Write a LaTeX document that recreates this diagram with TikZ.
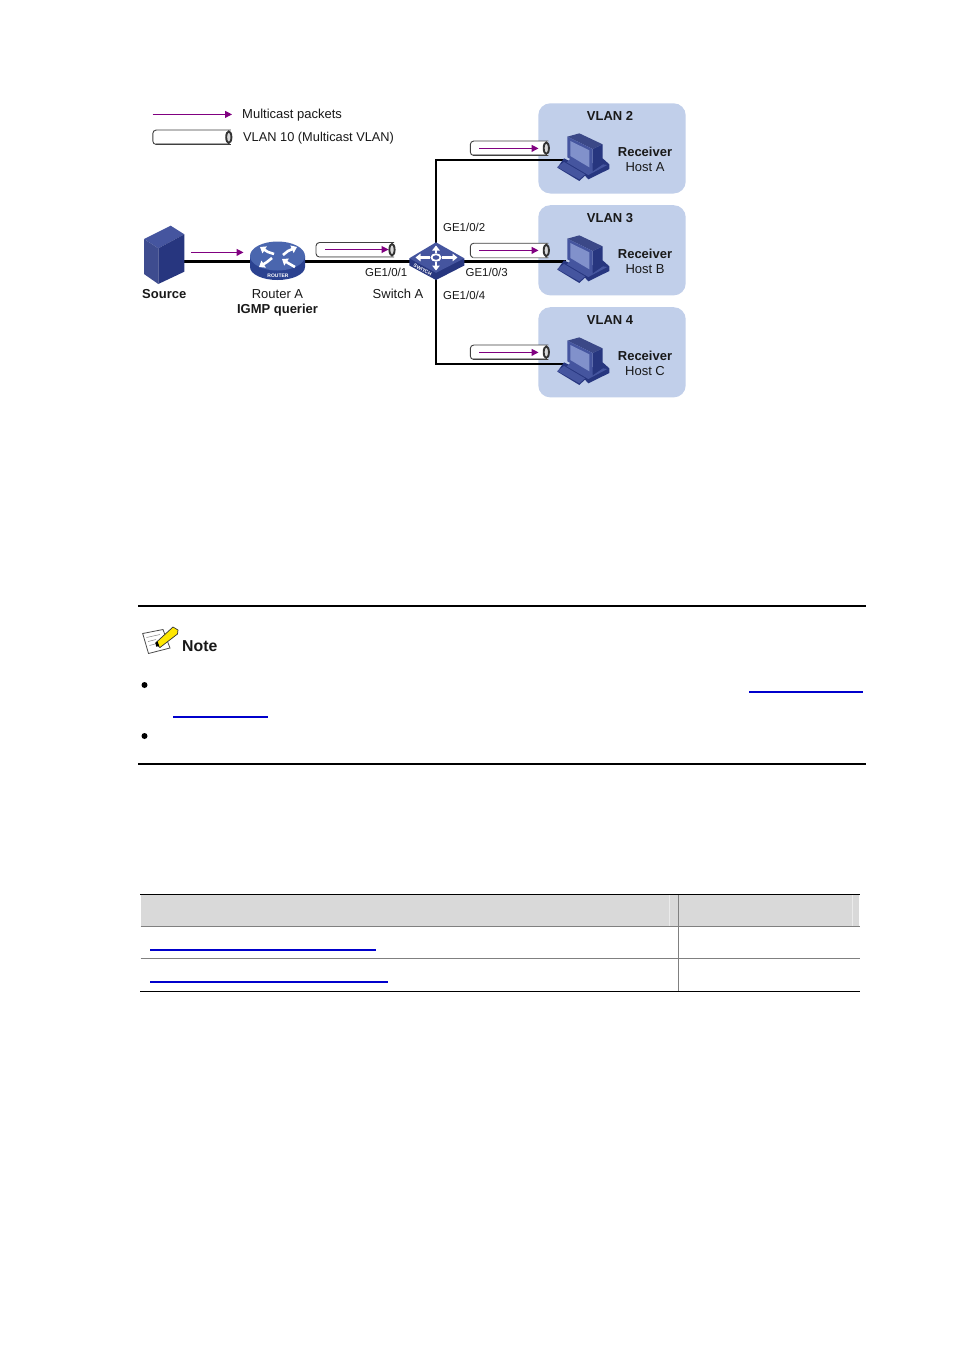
\documentclass[tikz,border=0pt]{standalone}
\usepackage{fontspec}
\setmainfont{Liberation Sans}
\usetikzlibrary{arrows.meta}
\definecolor{flowc}{HTML}{800080}
\definecolor{vlanc}{HTML}{C1CFEA}
\definecolor{dk}{HTML}{27367F}
\definecolor{md}{HTML}{45559F}
\definecolor{lt}{HTML}{8191CB}
\definecolor{rtop}{HTML}{4A66AE}
\definecolor{rside}{HTML}{2B4290}
\definecolor{headc}{HTML}{D9D9D9}
\definecolor{rulec}{HTML}{808080}
\definecolor{linkc}{HTML}{0000CC}
\tikzset{
  lab/.style={inner sep=0pt,anchor=base,font=\fontsize{13}{13}\selectfont,text=black!90},
  labl/.style={lab,anchor=base west},
  blab/.style={lab,font=\fontsize{13}{13}\selectfont\bfseries},
  blabl/.style={blab,anchor=base west},
  port/.style={lab,anchor=base west,font=\fontsize{11.45}{12}\selectfont},
  link/.style={line width=2pt,black},
  trunk/.style={line width=3pt,black},
  flow/.style={draw=flowc,line width=1pt,-{Triangle[length=7pt,width=7pt]}},
  notebar/.style={line width=2pt,black},
  hyper/.style={line width=1.3pt,linkc},
  tablegrey/.style={line width=1.2pt,rulec},
  tableblack/.style={line width=1.2pt,black},
  host/.pic={
    \begin{scope}[x=.3333pt,y=-.3333pt]
      \fill[dk] (22,128)--(42,100)--(100,128)--(158,100)--(178,118)--(178,132)--(115,163)--(105,152)--(88,168)--cycle;
      \fill[md] (22,126)--(42,111)--(105,148)--(88,163)--cycle;
      \fill[md] (62,100)--(128,137)--(158,118)--(172,120)--(115,150)--(50,112)--cycle;
      \fill[md!85!black] (52,35)--(88,25)--(158,58)--(128,72)--cycle;
      \fill[dk] (128,72)--(158,58)--(158,118)--(128,139)--cycle;
      \fill[md] (52,35)--(128,72)--(128,139)--(52,97)--cycle;
      \fill[lt] (61,48)--(118,76)--(118,127)--(61,93)--cycle;
    \end{scope}
  },
  tube/.pic={
    \fill[white] (0,0) rectangle (78,14.5);
    \draw[line width=.9pt,black!75,rounded corners=3.5pt] (78,0)--(0,0)--(0,14.5)--(78,14.5);
    \draw[line width=1pt,black!35] (3,13.8)--(75,13.8);
    \draw[line width=1.9pt,black!80,fill=black!15] (76,7.2) ellipse [x radius=2.6,y radius=5.8];
  }
}
\begin{document}
\begin{tikzpicture}[x=1pt,y=-1pt]
\useasboundingbox (0,0) rectangle (954,1350);
\fill[white] (0,0) rectangle (954,1350);

% VLAN regions
\fill[vlanc,rounded corners=12pt] (538.3,103.3) rectangle (685.7,193.5);
\fill[vlanc,rounded corners=12pt] (538.3,205.2) rectangle (685.7,295.4);
\fill[vlanc,rounded corners=12pt] (538.3,307.2) rectangle (685.7,397.4);

% anchor coordinates
\coordinate (source) at (165,261);
\coordinate (router) at (278,261);
\coordinate (switch) at (436,261);
\coordinate (hostA) at (566,160);
\coordinate (hostB) at (566,261);
\coordinate (hostC) at (566,363.5);

% connectors
\draw[trunk] (source) -- (router);
\draw[trunk] (router) -- (switch);
\draw[link] (switch) |- (hostA);
\draw[trunk] (switch) -- (hostB);
\draw[link] (switch) |- (hostC);

% tubes
\pic at (152.8,130) {tube};
\pic at (316,242.5) {tube};
\pic at (470.3,141) {tube};
\pic at (470.3,243.2) {tube};
\pic at (470.3,345) {tube};

% flow arrows
\coordinate (legS) at (152.7,114.4); \coordinate (legE) at (232,114.4);
\coordinate (srcS) at (191,252.4);   \coordinate (srcE) at (243.5,252.4);
\coordinate (trS) at (325,249.5);    \coordinate (trE) at (388.5,249.5);
\coordinate (aS) at (479,148.4);     \coordinate (aE) at (538.5,148.4);
\coordinate (bS) at (479,250.4);     \coordinate (bE) at (538.5,250.4);
\coordinate (cS) at (479,352.4);     \coordinate (cE) at (538.5,352.4);
\draw[flow] (legS) -- (legE);
\draw[flow] (srcS) -- (srcE);
\draw[flow] (trS) -- (trE);
\draw[flow] (aS) -- (aE);
\draw[flow] (bS) -- (bE);
\draw[flow] (cS) -- (cE);

% server
\fill[md] (170.7,225.7)--(184.3,234.3)--(158.3,248.3)--(144,239)--cycle;
\fill[md!90!black] (144,239)--(158.3,248.3)--(158.3,284)--(144,274)--cycle;
\fill[dk] (158.3,248.3)--(184.3,234.3)--(184.3,271.7)--(158.3,284)--cycle;

% router
\fill[rside] (250,256)--(250,267) arc[start angle=180,end angle=0,x radius=27.5,y radius=13] --(305,256)--cycle;
\fill[rtop] (277.5,256) ellipse [x radius=27.5,y radius=14.5];
\begin{scope}[line width=2.6pt,white,arrows={-{Triangle[length=5.5pt,width=8pt]}}]
  \draw (274,254)--(268,252)--(260,247);
  \draw (283,255)--(288,251)--(297,247);
  \draw (272,258)--(267,262)--(259,267);
  \draw (295,267)--(288,263)--(282,259);
\end{scope}
\node (rlabel) [inner sep=0pt,text=white,font=\fontsize{5}{5}\selectfont\bfseries] at (278,276) {ROUTER};

% switch
\fill[dk] (409.3,258.3)--(409.3,265.5)--(436,280)--(464.3,265.5)--(464.3,258.3)--cycle;
\fill[md] (436,242.3)--(464.3,258.3)--(436,272.8)--(409.3,258.3)--cycle;
\begin{scope}[line width=2.2pt,white,arrows={-{Triangle[length=5pt,width=7.5pt]}}]
  \draw (436,253)--(436,245.5);
  \draw (436,262)--(436,270.5);
  \draw (430,257.5)--(415.5,257.5);
  \draw (442,257.5)--(457.5,257.5);
\end{scope}
\draw[white,line width=1.8pt] (436,257.5) ellipse [x radius=4.5,y radius=3.3];
\node (slabel) [inner sep=0pt,text=white,rotate=-28,font=\fontsize{5}{5}\selectfont\bfseries] at (422.7,270) {SWITCH};

% hosts
\pic at (550,125) {host};
\pic at (550,227) {host};
\pic at (550,329) {host};

% labels
\node (t1) [labl] at (242,118) {Multicast packets};
\node (t2) [labl,font=\fontsize{12.8}{13}\selectfont] at (243,141) {VLAN 10 (Multicast VLAN)};
\node (t3) [blabl] at (142,298) {Source};
\node (t4) [lab] at (277.5,298) {Router A};
\node (t5) [blab] at (277.5,313) {IGMP querier};
\node (t6) [labl] at (372.5,298) {Switch A};
\node (p1) [port] at (365,276) {GE1/0/1};
\node (p2) [port] at (443,231) {GE1/0/2};
\node (p3) [port] at (465.5,276) {GE1/0/3};
\node (p4) [port] at (443,299) {GE1/0/4};
\node (v2) [blab] at (610,120) {VLAN 2};
\node (v3) [blab] at (610,222) {VLAN 3};
\node (v4) [blab] at (610,324) {VLAN 4};
\node (r1) [blab] at (645,156) {Receiver};
\node (r2) [blab] at (645,258) {Receiver};
\node (r3) [blab] at (645,360) {Receiver};
\node (h1) [lab] at (645,171) {Host A};
\node (h2) [lab] at (645,273) {Host B};
\node (h3) [lab] at (645,375) {Host C};

% note block
\draw[notebar] (138,606)--(866,606);
\draw[notebar] (138,764)--(866,764);
\draw[fill=white,draw=black!70,line width=.8pt] (142.7,633.5)--(163,629.5)--(170,648)--(148.5,653.5)--cycle;
\draw[black!50,line width=.5pt] (146.5,637.5)--(160,634.5) (148,641.5)--(156,639.5) (149.5,645.5)--(155,644);
\draw[fill=yellow!90!orange,draw=black!80,line width=.7pt] (155.5,643)--(173,627)--(178,630)--(177.5,634)--(160,647.5)--cycle;
\fill[black] (155.5,643)--(157.5,641.3)--(159.3,646.2)--(156.2,646.6)--cycle;
\node (note) [inner sep=0pt,anchor=base west,text=black!90,font=\fontsize{15.8}{16}\selectfont\bfseries] at (182,651.5) {Note};
\fill[black] (144.5,685) circle [radius=3];
\fill[black] (144.5,736) circle [radius=3];
\draw[hyper] (749,692)--(863,692);
\draw[hyper] (173,717)--(268,717);

% table
\fill[headc] (141,895) rectangle (859,926);
\draw[white!92!black,line width=.7pt] (669.5,895)--(669.5,926) (852,895)--(852,926);
\draw[rulec,line width=1pt] (678,895)--(678,991);
\draw[tableblack] (140,894.4)--(860,894.4);
\draw[tablegrey] (140.5,926.5)--(859.5,926.5);
\draw[tablegrey] (140.5,958.5)--(859.5,958.5);
\draw[tableblack] (140,991.5)--(860,991.5);
\draw[hyper] (150,950)--(376,950);
\draw[hyper] (150,982)--(388,982);
\end{tikzpicture}
\end{document}
